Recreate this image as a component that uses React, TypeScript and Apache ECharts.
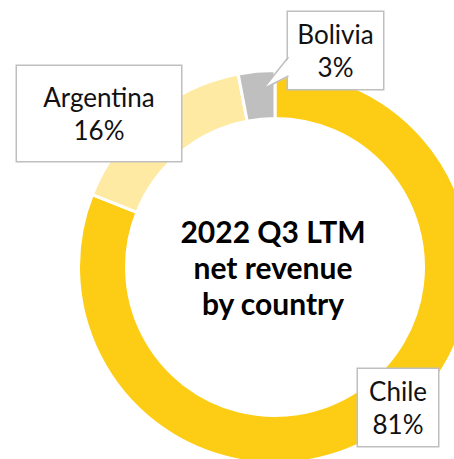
import React, { useEffect, useRef } from "react";
import * as echarts from "echarts";

const countries = ["Chile", "Argentina", "Bolivia"];
const shares = [81, 16, 3];
const centerTitle = ["2022 Q3 LTM", "net revenue", "by country"];

const sliceColors: Record<string, string> = {
  Chile: "#FDCD16",
  Argentina: "#FEEAA3",
  Bolivia: "#BFBFBF",
};

// label box geometry (center x, center y, width, height)
const labelBoxes: Record<string, { cx: number; cy: number; w: number; h: number }> = {
  Chile: { cx: 398, cy: 407.5, w: 80, h: 77 },
  Argentina: { cx: 99, cy: 113.5, w: 164, h: 95 },
  Bolivia: { cx: 335.5, cy: 50.5, w: 95, h: 77 },
};

export default function App() {
  const ref = useRef<HTMLDivElement>(null);
  useEffect(() => {
    if (!ref.current) return;
    const chart = echarts.init(ref.current, undefined, { renderer: "svg" });
    const lineH = 33;
    const data = countries.map((name, i) => {
      const b = labelBoxes[name];
      const padV = (b.h - 2 * lineH) / 2;
      return {
        name,
        value: shares[i],
        itemStyle: { color: sliceColors[name] },
        label: {
          width: b.w,
          padding: [padV, 0, padV, 0],
        },
      };
    });
    chart.setOption({
      animation: false,
      series: [
        {
          type: "pie",
          center: [275, 267],
          radius: [148.5, 196.5],
          startAngle: 90,
          clockwise: true,
          avoidLabelOverlap: false,
          itemStyle: { borderColor: "#ffffff", borderWidth: 3 },
          emphasis: { disabled: true },
          label: {
            show: true,
            position: "outside",
            formatter: (p: any) => `${p.name}\n${p.value}%`,
            fontFamily: "Lato",
            fontSize: 26,
            lineHeight: lineH,
            color: "#111111",
            align: "center",
            backgroundColor: "#ffffff",
            borderColor: "#BFBFBF",
            borderWidth: 1.5,
          },
          labelLine: { show: false },
          labelLayout: (params: any) => {
            const name = countries[params.dataIndex];
            const b = labelBoxes[name];
            return { x: b.cx, y: b.cy, align: "center", verticalAlign: "middle" };
          },
          data,
        },
      ],
      graphic: [
        {
          type: "polygon",
          z: 100,
          shape: { points: [[290, 57], [263, 89], [290, 76]] },
          style: { fill: "#ffffff" },
        },
        {
          type: "polyline",
          z: 101,
          shape: { points: [[288.5, 57], [263, 89], [288.5, 76]] },
          style: { stroke: "#BFBFBF", lineWidth: 1.5, fill: null },
        },
        {
          type: "text",
          z: 100,
          x: 273,
          y: 267,
          style: {
            text: centerTitle.join("\n"),
            fontFamily: "Lato",
            fontWeight: "bold",
            fontSize: 30,
            lineHeight: 36,
            fill: "#000000",
            align: "center",
            verticalAlign: "middle",
          },
        },
      ],
    });
    return () => chart.dispose();
  }, []);
  return (
    <div
      ref={ref}
      style={{ position: "fixed", left: 0, top: 0, width: 454, height: 459, background: "#fff" }}
    />
  );
}
